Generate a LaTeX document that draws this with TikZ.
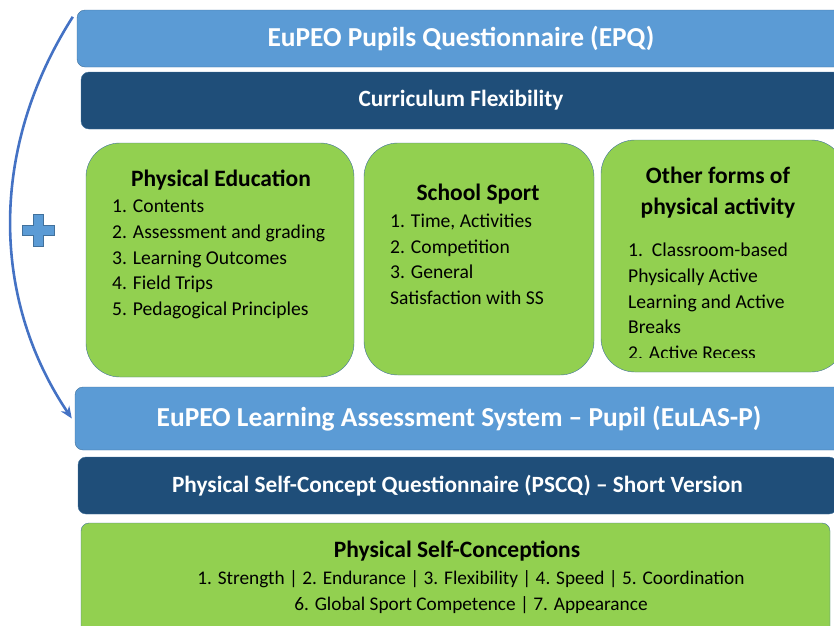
\documentclass[tikz,border=0pt]{standalone}
\usepackage{fontspec}
\setmainfont{Carlito}
\usetikzlibrary{arrows.meta}
\definecolor{barlight}{HTML}{5B9BD5}
\definecolor{bardark}{HTML}{1F4E79}
\definecolor{boxgreen}{HTML}{92D050}
\definecolor{edgeblue}{HTML}{41719C}
\definecolor{arrowblue}{HTML}{4472C4}

\begin{document}
\begin{tikzpicture}
  [x=1pt, y=-1pt,
    every node/.style={inner sep=0pt},
    lightbar/.style={draw=edgeblue, fill=barlight, rounded corners=8pt, text=white,
      font=\bfseries\fontsize{27.4}{31}\selectfont},
    darkbar/.style={draw=edgeblue, fill=bardark, rounded corners=8pt, text=white,
      font=\bfseries\fontsize{23.3}{27}\selectfont},
    greenbox/.style={draw=edgeblue, fill=boxgreen, rounded corners=34pt},
    boxtitle/.style={font=\bfseries\fontsize{23.5}{31}\selectfont, align=center},
    itemlist/.style={font=\fontsize{19.6}{25.6}\selectfont, align=left, anchor=north west},
]
  \useasboundingbox (0,0) rectangle (834,625);
  \clip (0,0) rectangle (834,625);

  % top questionnaire
  \node[lightbar, minimum width=768, minimum height=57] (epq) at (461,38.5)
    {EuPEO Pupils Questionnaire (EPQ)};
  \node[darkbar, minimum width=760, minimum height=57] (flex) at (461,100.5)
    {Curriculum Flexibility};

  % the three green boxes
  \node[greenbox, minimum width=268, minimum height=234] (pe) at (220,260) {};
  \node[greenbox, minimum width=230, minimum height=232] (ss) at (479,259) {};
  \node[greenbox, minimum width=244, minimum height=232] (other) at (723,256) {};

  \node[boxtitle] (petitle) at (221,180) {Physical Education};
  \node[itemlist] (pelist) at (112,200) {1. Contents\\2. Assessment and grading\\
    3. Learning Outcomes\\4. Field Trips\\5. Pedagogical Principles};

  \node[boxtitle] (sstitle) at (478,194) {School Sport};
  \node[itemlist] (sslist) at (390,214) {1. Time, Activities\\2. Competition\\
    3. General\\Satisfaction with SS};

  \node[boxtitle] (othertitle) at (718,193) {Other forms of\\physical activity};
  \begin{scope}
    \clip (601,140) rectangle (845,357);
    \node[itemlist] (otherlist) at (628,243) {1.\ \ Classroom-based\\Physically Active\\
      Learning and Active\\Breaks\\2. Active Recess};
  \end{scope}

  % pupil assessment
  \node[lightbar, minimum width=768, minimum height=63] (eulas) at (459,418.5)
    {EuPEO Learning Assessment System -- Pupil (EuLAS-P)};
  \node[darkbar, minimum width=759, minimum height=57] (pscq) at (457.5,485.5)
    {Physical Self-Concept Questionnaire (PSCQ) -- Short Version};
  \node[draw=edgeblue, fill=boxgreen, rounded corners=8pt, minimum width=749,
    minimum height=130] (psc) at (455.5,588) {};
  \node[boxtitle] (psctitle) at (457,551) {Physical Self-Conceptions};
  \node[font=\fontsize{19.3}{26}\selectfont, align=center] (psclist) at (471,592)
    {1. Strength | 2. Endurance | 3. Flexibility | 4. Speed | 5. Coordination\\
     6. Global Sport Competence | 7. Appearance};

  % link between the two questionnaires
  \draw[arrowblue, line width=2.6pt, -{Stealth[length=12pt,width=10pt]}]
    ([shift={(-4,7)}]epq.north west) .. controls (-12,150) and (-8,300)
    .. ([xshift=-3pt]eulas.west);
  \draw[edgeblue, fill=barlight, line width=0.6pt]
    (33,214) -- (43,214) -- (43,225) -- (54,225) -- (54,235) -- (43,235)
    -- (43,246) -- (33,246) -- (33,235) -- (22,235) -- (22,225) -- (33,225) -- cycle;
\end{tikzpicture}
\end{document}
